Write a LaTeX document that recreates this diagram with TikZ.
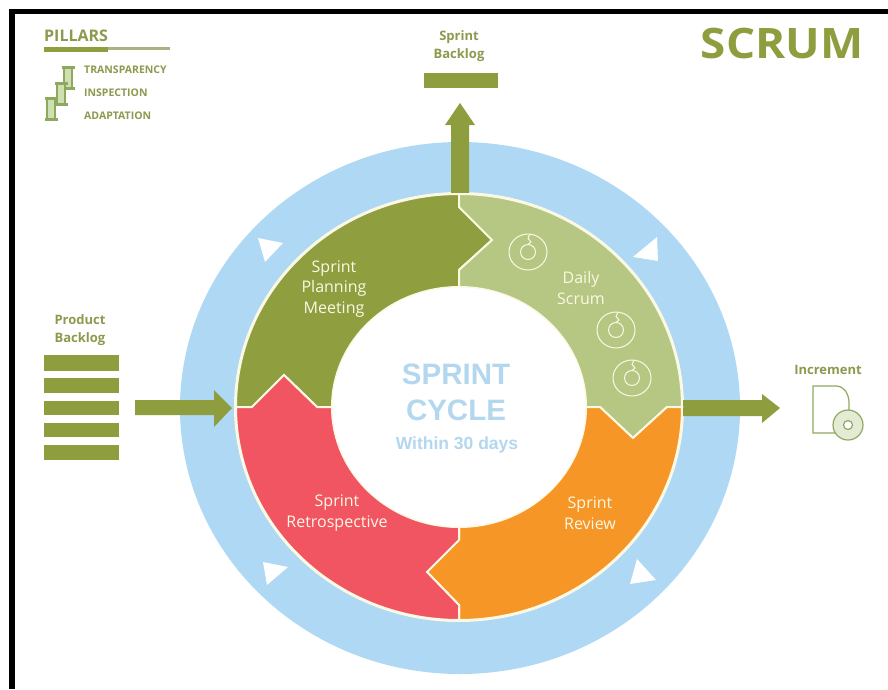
\documentclass[tikz,border=0pt]{standalone}
\usepackage{fontspec}
\setmainfont{Open Sans}
\newfontfamily\arialfont{Liberation Sans}
\newfontfamily\titlefont[FakeStretch=1.09]{Open Sans}
\definecolor{ringblue}{HTML}{AED8F3}
\definecolor{olive}{HTML}{8E9E3E}
\definecolor{planning}{HTML}{8F9F3F}
\definecolor{daily}{HTML}{B5C782}
\definecolor{review}{HTML}{F59627}
\definecolor{retro}{HTML}{F25562}
\definecolor{cream}{HTML}{FBF8E4}
\definecolor{cycleblue}{HTML}{B3D7EE}
\definecolor{textgreen}{HTML}{8C9A4E}
\definecolor{pillarfill}{HTML}{CFE0B0}
\definecolor{pillarline}{HTML}{8FA860}
\tikzset{
  segment/.style={draw=cream,line width=2pt,line join=miter},
  bar/.style={fill=olive,draw=none},
  blockarrow/.style={fill=olive,draw=none},
  tri/.style={fill=white,draw=none},
  seglabel/.style={text=cream,font=\fontsize{16}{20.5}\selectfont,align=center},
  headlabel/.style={text=textgreen,font=\fontsize{13}{18.5}\selectfont\bfseries,align=center},
  pillarlabel/.style={text=textgreen,font=\fontsize{10.5}{11}\selectfont\bfseries,anchor=west,inner sep=0pt},
  cycle/.style={text=cycleblue,font=\arialfont\bfseries\fontsize{29.5}{36}\selectfont,align=center},
  clockline/.style={draw=cream,line width=1pt},
  pillar/.pic={
    \fill[pillarfill] (-4.5,-9) rectangle (4.5,9);
    \draw[pillarline,line width=1.2pt] (-4,-9) -- (-4,9) (4,-9) -- (4,9);
    \draw[pillarline,line width=2.2pt] (-6.5,-10.5) -- (6.5,-10.5) (-6.5,10.5) -- (6.5,10.5);
  },
  clock/.pic={
    \draw[clockline] (0,0) circle[x radius=19pt,y radius=18pt];
    \draw[clockline] (0,0) circle[radius=7.5pt];
    \draw[clockline] (0,7.5) -- (3,10) -- (0,13.5) -- (2,18);
  }
}
\begin{document}
\begin{tikzpicture}[x=1pt,y=1pt,yscale=-1]
\useasboundingbox (0,0) rectangle (888,689);
\fill[white] (0,0) rectangle (888,689);
% frame
\fill[black] (9,9) rectangle (888,14);
\fill[black] (9,9) rectangle (15,689);
% blue ring
\fill[ringblue] (460,408) ellipse[x radius=280pt,y radius=266pt];
\fill[cream] (459,407) ellipse[x radius=225pt,y radius=215pt];
% ring arrowheads
\fill[tri] (258,238) -- (283,243) -- (265,262) -- cycle;
\fill[tri] (657,237) -- (658,261) -- (633,257) -- cycle;
\fill[tri] (637,559) -- (656,580) -- (630,584) -- cycle;
\fill[tri] (263,562) -- (288,567) -- (267,585) -- cycle;
% block arrows
\fill[blockarrow] (451,196) -- (451,125) -- (445,125) -- (460,103) -- (475,125) -- (469,125) -- (469,196) -- cycle;
\fill[blockarrow] (135,400) -- (214,400) -- (214,390) -- (232,408) -- (214,427) -- (214,415) -- (135,415) -- cycle;
\fill[blockarrow] (682,400) -- (762,400) -- (762,394) -- (780,408) -- (762,423) -- (762,416) -- (682,416) -- cycle;
% segments
\path[segment,fill=planning] (236,407) arc[start angle=180,end angle=270,x radius=223pt,y radius=213pt]
  -- (459,207) -- (492,240) -- (459,270) -- (459,287)
  arc[start angle=270,end angle=180,x radius=127pt,y radius=120pt]
  -- (317,407) -- (284,375) -- (252,407) -- cycle;
\path[segment,fill=daily] (459,194) arc[start angle=270,end angle=360,x radius=223pt,y radius=213pt]
  -- (667,407) -- (633,438) -- (600,407) -- (586,407)
  arc[start angle=360,end angle=270,x radius=127pt,y radius=120pt]
  -- (459,270) -- (492,240) -- (459,207) -- cycle;
\path[segment,fill=review] (682,407) arc[start angle=0,end angle=90,x radius=223pt,y radius=213pt]
  -- (459,605) -- (427,572) -- (459,540) -- (459,527)
  arc[start angle=90,end angle=0,x radius=127pt,y radius=120pt]
  -- (600,407) -- (633,438) -- (667,407) -- cycle;
\path[segment,fill=retro] (459,620) arc[start angle=90,end angle=180,x radius=223pt,y radius=213pt]
  -- (252,407) -- (284,375) -- (317,407) -- (332,407)
  arc[start angle=180,end angle=90,x radius=127pt,y radius=120pt]
  -- (459,540) -- (427,572) -- (459,605) -- cycle;
\fill[white] (459,407) ellipse[x radius=126.5pt,y radius=119.5pt];
% icons in Daily Scrum
\pic at (528,252) {clock};
\pic at (616,330) {clock};
\pic at (632,378) {clock};
% segment labels
\node[seglabel] (planninglabel) at (334,289) {Sprint\\Planning\\Meeting};
\node[seglabel] (dailylabel) at (581,288) {Daily\\Scrum};
\node[seglabel] (reviewlabel) at (590,513) {Sprint\\Review};
\node[seglabel] (retrolabel) at (337,513) {Sprint\\Retrospective};
% centre
\node[cycle] (cyclelabel) at (456,392) {SPRINT\\CYCLE};
\node[text=cycleblue,font=\arialfont\bfseries\fontsize{17.5}{18}\selectfont] (withinlabel) at (457,444.5) {Within 30 days};
% title
\node[text=olive,font=\titlefont\bfseries\fontsize{42}{43}\selectfont] (title) at (782,43) {SCRUM};
% sprint backlog
\node[headlabel] (sprintbacklog) at (459,46) {Sprint\\Backlog};
\fill[bar] (424,73) rectangle (498,88);
% product backlog
\node[headlabel] (productbacklog) at (80,330) {Product\\Backlog};
\fill[bar] (44,355) rectangle (119,371);
\fill[bar] (44,378) rectangle (119,393);
\fill[bar] (44,401) rectangle (119,415);
\fill[bar] (44,423) rectangle (119,437);
\fill[bar] (44,445) rectangle (119,460);
% increment
\node[headlabel] (increment) at (828,370) {Increment};
\draw[pillarline,line width=1.2pt,fill=white] (813,386) -- (836,386) .. controls (844,386) and (849,394) .. (849,403) -- (849,433) -- (813,433) -- cycle;
\draw[pillarline,line width=1.2pt,fill=black!4!pillarfill!50!white] (848,425) circle[radius=15pt];
\draw[pillarline,line width=1.2pt,fill=white] (848,425) circle[radius=4.5pt];
% pillars
\node[text=textgreen,font=\bfseries\fontsize{16}{18}\selectfont,anchor=west,inner sep=0pt] (pillars) at (44,36) {PILLARS};
\fill[black!20!olive!60!white] (44,47) rectangle (170,50);
\fill[olive] (44,47) rectangle (108,52);
\pic at (68,78) {pillar};
\pic at (61,94) {pillar};
\pic at (51,109) {pillar};
\node[pillarlabel] (transparency) at (84,70) {TRANSPARENCY};
\node[pillarlabel] (inspection) at (84,93) {INSPECTION};
\node[pillarlabel] (adaptation) at (84,116) {ADAPTATION};
\end{tikzpicture}
\end{document}
